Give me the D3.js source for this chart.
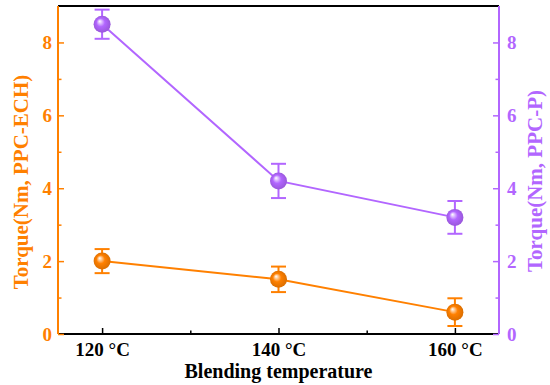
<!DOCTYPE html>
<html>
<head>
<meta charset="utf-8">
<script src="https://cdn.jsdelivr.net/npm/d3@7"></script>
<style>
  body { margin: 0; background: #fff; }
  svg { display: block; }
</style>
</head>
<body>
<div id="chart"></div>
<script>
// data
var temps = [120, 140, 160];
var tempLabels = ['120 \u00B0C', '140 \u00B0C', '160 \u00B0C'];
var echTorque = [2.0, 1.5, 0.6];
var echErr = [0.33, 0.35, 0.38];
var pTorque = [8.5, 4.2, 3.2];
var pErr = [0.4, 0.47, 0.45];
var yTicks = [0, 2, 4, 6, 8];
var yMinor = [1, 3, 5, 7];
var xMinor = [130, 150];

const orange = '#ff8000';
const purple = '#b266ff';
const font = 'Liberation Serif, Times New Roman, serif';

var svg = d3.select('#chart')
    .append('svg')
    .attr('width', 550)
    .attr('height', 385);

const pLeft = 58, pRight = 499, pTop = 6, pBottom = 334;

var x = d3.scaleLinear().domain([115, 165]).range([pLeft, pRight]);
var yL = d3.scaleLinear().domain([0, 9]).range([pBottom, pTop]);
var yR = d3.scaleLinear().domain([0, 9]).range([pBottom, pTop]);

// gradients for the ball markers
var defs = svg.append('defs');
function ballGrad(id, col) {
    var g = defs.append('radialGradient')
        .attr('id', id)
        .attr('cx', '50%').attr('cy', '50%').attr('r', '55%')
        .attr('fx', '35%').attr('fy', '32%');
    g.append('stop').attr('offset', '0%').attr('stop-color', '#ffffff');
    g.append('stop').attr('offset', '45%').attr('stop-color', col);
    g.append('stop').attr('offset', '100%').attr('stop-color', d3.color(col).darker(0.5));
}
ballGrad('gOrange', orange);
ballGrad('gPurple', purple);

// frame: top black
svg.append('line')
    .attr('x1', pLeft).attr('x2', pRight)
    .attr('y1', pTop).attr('y2', pTop)
    .attr('stroke', '#000').attr('stroke-width', 2);

// bottom axis
var xAxis = d3.axisBottom(x)
    .tickValues(temps)
    .tickSize(-6)
    .tickFormat((d, i) => tempLabels[i]);
var gx = svg.append('g')
    .attr('transform', 'translate(0,' + pBottom + ')')
    .call(xAxis);
gx.select('.domain').attr('stroke', '#000').attr('stroke-width', 2).attr('d', 'M' + pLeft + ',0H' + pRight);
gx.selectAll('.tick line').attr('stroke', '#000').attr('stroke-width', 1.5);
gx.selectAll('.tick text')
    .attr('dy', 0).attr('y', 22)
    .attr('font-family', font).attr('font-weight', 'bold')
    .attr('font-size', '19px').attr('fill', '#000');

var gxm = svg.append('g')
    .attr('transform', 'translate(0,' + pBottom + ')')
    .call(d3.axisBottom(x).tickValues(xMinor).tickSize(-3.5).tickFormat(''));
gxm.select('.domain').remove();
gxm.selectAll('.tick line').attr('stroke', '#000').attr('stroke-width', 1.5);

// y axes
function yAxisDraw(scale, col, gen, xpos, pad) {
    var g = svg.append('g')
        .attr('transform', 'translate(' + xpos + ',0)')
        .call(gen(scale).tickValues(yTicks).tickSize(-6).tickPadding(pad));
    g.select('.domain').attr('stroke', col).attr('stroke-width', 2)
        .attr('d', 'M0,' + pTop + 'V' + pBottom);
    g.selectAll('.tick line').attr('stroke', col).attr('stroke-width', 1.5);
    g.selectAll('.tick text')
        .attr('font-family', font).attr('font-weight', 'bold')
        .attr('font-size', '19px').attr('fill', col);
    var gm = svg.append('g')
        .attr('transform', 'translate(' + xpos + ',0)')
        .call(gen(scale).tickValues(yMinor).tickSize(-3.5).tickFormat(''));
    gm.select('.domain').remove();
    gm.selectAll('.tick line').attr('stroke', col).attr('stroke-width', 1.5);
}
yAxisDraw(yL, orange, d3.axisLeft, pLeft, 6);
yAxisDraw(yR, purple, d3.axisRight, pRight, 8);

// series
function drawSeries(vals, errs, scale, col, grad) {
    var pts = temps.map((t, i) => ({ t: t, v: vals[i], e: errs[i] }));
    svg.append('path')
        .datum(pts)
        .attr('fill', 'none')
        .attr('stroke', col)
        .attr('stroke-width', 2)
        .attr('d', d3.line().x(d => x(d.t)).y(d => scale(d.v)));

    var eb = svg.append('g').attr('stroke', col).attr('stroke-width', 2);
    pts.forEach(function(d) {
        eb.append('line')
            .attr('x1', x(d.t)).attr('x2', x(d.t))
            .attr('y1', scale(d.v - d.e)).attr('y2', scale(d.v + d.e));
        [d.v - d.e, d.v + d.e].forEach(function(v) {
            eb.append('line')
                .attr('x1', x(d.t) - 7.5).attr('x2', x(d.t) + 7.5)
                .attr('y1', scale(v)).attr('y2', scale(v));
        });
    });

    svg.selectAll('.ball-' + grad)
        .data(pts)
        .enter()
        .append('circle')
        .attr('class', 'ball-' + grad)
        .attr('cx', d => x(d.t))
        .attr('cy', d => scale(d.v))
        .attr('r', 8.5)
        .attr('fill', 'url(#' + grad + ')');
}
drawSeries(echTorque, echErr, yL, orange, 'gOrange');
drawSeries(pTorque, pErr, yR, purple, 'gPurple');

// titles
svg.append('text')
    .attr('transform', 'translate(28,182) rotate(-90)')
    .attr('text-anchor', 'middle')
    .attr('font-family', font).attr('font-weight', 'bold')
    .attr('font-size', '21px').attr('fill', orange)
    .text('Torque(Nm, PPC-ECH)');

svg.append('text')
    .attr('transform', 'translate(542,181) rotate(-90)')
    .attr('text-anchor', 'middle')
    .attr('font-family', font).attr('font-weight', 'bold')
    .attr('font-size', '21px').attr('fill', purple)
    .text('Torque(Nm, PPC-P)');

svg.append('text')
    .attr('x', x(140))
    .attr('y', 378)
    .attr('text-anchor', 'middle')
    .attr('font-family', font).attr('font-weight', 'bold')
    .attr('font-size', '20px').attr('fill', '#000')
    .text('Blending temperature');
</script>
</body>
</html>
